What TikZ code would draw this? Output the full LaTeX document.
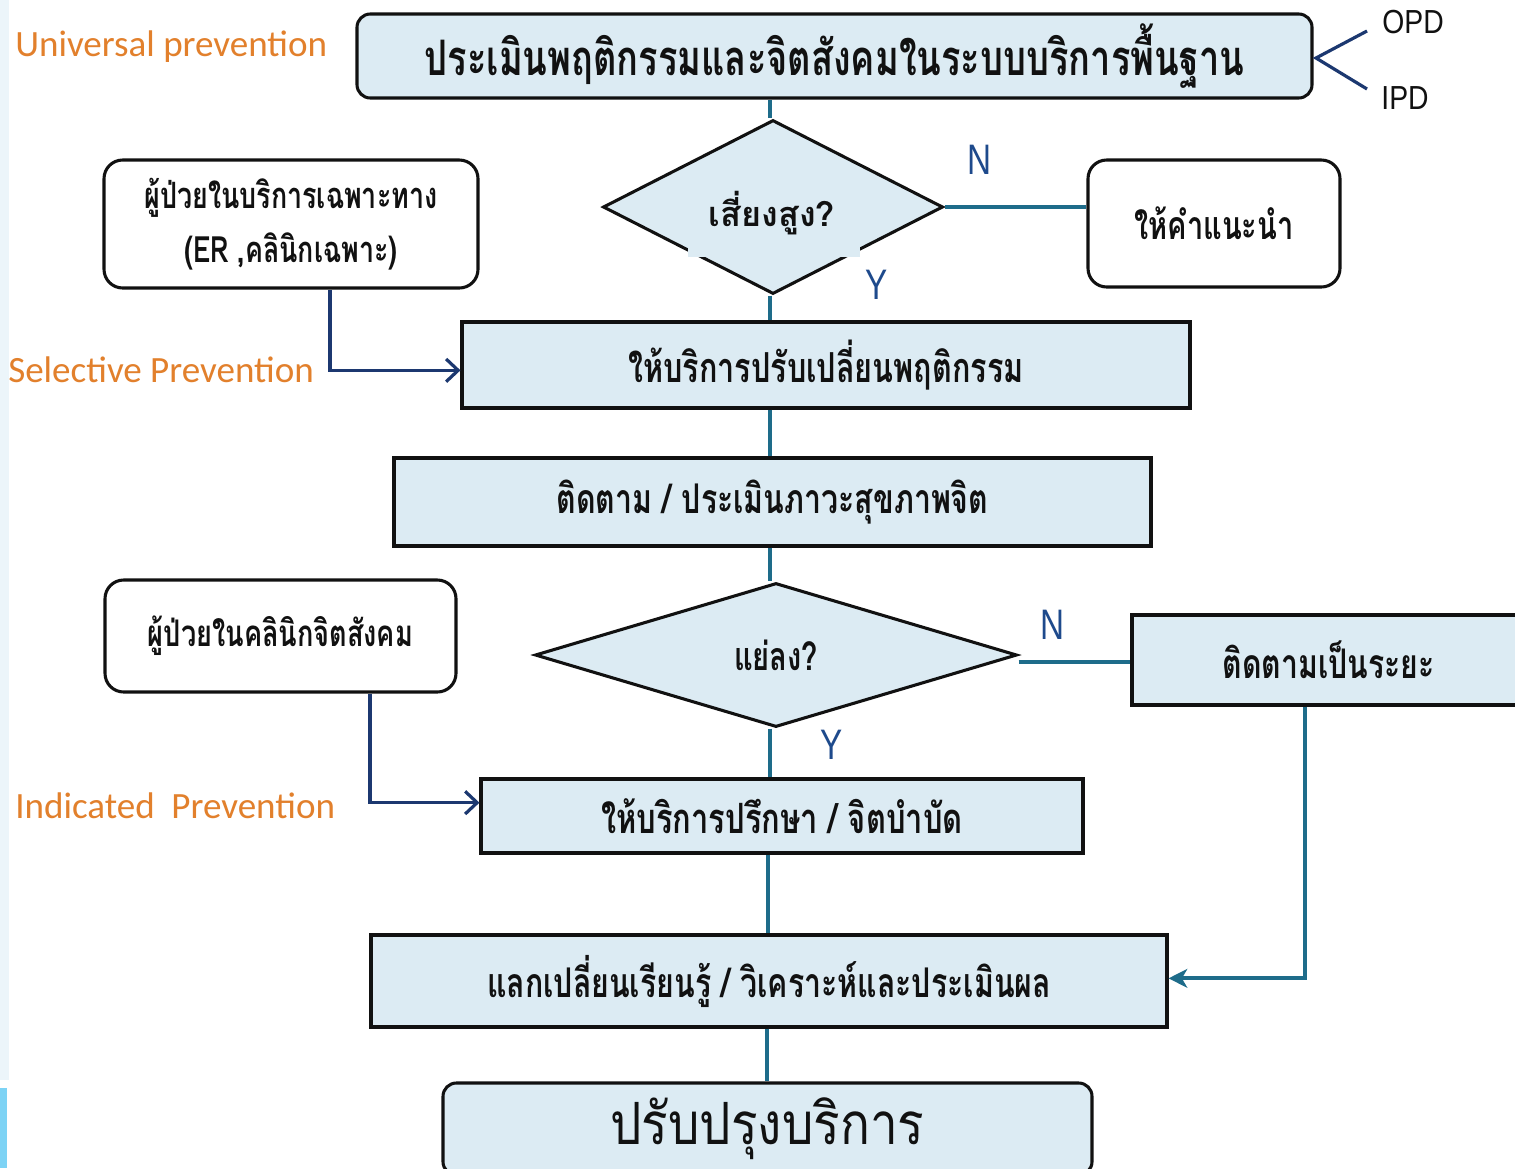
\documentclass[tikz,border=0pt]{standalone}
\usepackage{fontspec}
\setmainfont{Carlito}
\newfontfamily\thai[Script=Thai]{Loma}
\newfontfamily\thaic[Script=Thai,FakeStretch=0.74]{Loma}
\newfontfamily\thaim[Script=Thai,FakeStretch=0.85]{Loma}
\newfontfamily\lat{Liberation Sans}
\usetikzlibrary{shapes.geometric,arrows.meta,calc}
\definecolor{boxfill}{RGB}{220,235,243}
\definecolor{boxline}{RGB}{17,17,17}
\definecolor{conteal}{RGB}{30,108,138}
\definecolor{navy}{RGB}{28,56,112}
\definecolor{orangelab}{RGB}{226,128,44}
\definecolor{ynblue}{RGB}{30,74,140}
\definecolor{stripblue}{RGB}{236,245,250}
\definecolor{cyanmark}{RGB}{125,211,245}
\tikzset{
  bluebox/.style={draw=boxline, fill=boxfill, line width=2.3pt, inner sep=0pt, align=center, text=boxline},
  roundblue/.style={bluebox, rounded corners=10pt},
  whitebox/.style={draw=boxline, fill=white, line width=2.3pt, rounded corners=14pt, inner sep=0pt, align=center, text=boxline},
  decision/.style={diamond, draw=boxline, fill=boxfill, line width=2.3pt, inner sep=0pt},
  conn/.style={draw=conteal, line width=2.8pt},
  tealarrow/.style={draw=conteal, line width=2.8pt, -{Stealth[length=14pt,width=14pt,inset=4pt]}},
  navyarrow/.style={draw=navy, line width=2.4pt, -{Straight Barb[length=9pt,width=17pt,line width=2.4pt]}},
  prevlabel/.style={text=orangelab, font=\fontsize{27.8}{32}\selectfont, inner sep=0pt, anchor=west},
  ynlabel/.style={text=ynblue, font=\lat\fontsize{32}{32}\selectfont, inner sep=0pt},
  sidelabel/.style={text=boxline, font=\lat\fontsize{25}{25}\selectfont, inner sep=0pt},
}
\begin{document}
\begin{tikzpicture}[x=0.75pt,y=-0.75pt]
\useasboundingbox (0,0) rectangle (1515,1168);
\fill[white] (0,0) rectangle (1515,1168);
% left edge decoration
\fill[stripblue] (0,0) rectangle (9,1080);
\fill[cyanmark] (0,1088) rectangle (7,1168);

% boxes
\node[roundblue, minimum width=716.25pt, minimum height=63pt, font=\thaic\bfseries\fontsize{36.7}{40}\selectfont] (top) at (834.5,56) {\raisebox{-2pt}{ประเมินพฤติกรรมและจิตสังคมในระบบบริการพื้นฐาน}};
\node[decision, minimum width=255pt, minimum height=130.5pt] (d1) at (773,207) {};
\fill[boxfill] (688,234) rectangle (860,257);
\node[inner sep=0pt, text=boxline, font=\thai\bfseries\fontsize{25.7}{30}\selectfont] (d1text) at (772,213) {เสี่ยงสูง?};
\node[whitebox, minimum width=189pt, minimum height=95.25pt, font=\thaic\bfseries\fontsize{29.4}{34}\selectfont] (advice) at (1214,223.5) {ให้คำแนะนำ};
\node[whitebox, minimum width=280.5pt, minimum height=96pt, font=\thaic\bfseries\fontsize{27.2}{40}\selectfont] (sel) at (291,224) {ผู้ป่วยในบริการเฉพาะทาง\\(ER ,คลินิกเฉพาะ)};
\node[bluebox, minimum width=546pt, minimum height=64.5pt, font=\thaic\bfseries\fontsize{31}{34}\selectfont] (beh) at (826,365) {ให้บริการปรับเปลี่ยนพฤติกรรม};
\node[bluebox, minimum width=567.75pt, minimum height=66pt, font=\thaic\bfseries\fontsize{30.7}{34}\selectfont] (follow) at (772.5,502) {\raisebox{-2pt}{ติดตาม / ประเมินภาวะสุขภาพจิต}};
\node[decision, minimum width=361.5pt, minimum height=108pt, text=boxline, font=\thaic\bfseries\fontsize{29.5}{34}\selectfont] (d2) at (776,655) {แย่ลง?};
\node[bluebox, minimum width=294.75pt, minimum height=67.5pt, font=\thaic\bfseries\fontsize{30.6}{34}\selectfont] (periodic) at (1328.5,660) {ติดตามเป็นระยะ};
\node[whitebox, minimum width=263.25pt, minimum height=84pt, font=\thaic\bfseries\fontsize{27.5}{32}\selectfont] (ind) at (280.5,636) {ผู้ป่วยในคลินิกจิตสังคม};
\node[bluebox, minimum width=451.5pt, minimum height=55.5pt, font=\thaic\bfseries\fontsize{31.3}{34}\selectfont] (consult) at (782,816) {ให้บริการปรึกษา / จิตบำบัด};
\node[bluebox, minimum width=597pt, minimum height=69pt, font=\thaic\bfseries\fontsize{30.7}{34}\selectfont] (exch) at (769,981) {แลกเปลี่ยนเรียนรู้ / วิเคราะห์และประเมินผล};
\node[roundblue, minimum width=486.75pt, minimum height=69pt, font=\thaim\fontsize{43.7}{48}\selectfont] (improve) at (767.5,1129) {ปรับปรุงบริการ};

% connectors
\coordinate (spine) at (770,0);
\draw[conn] (top.south -| spine) -- (d1.north -| spine);
\draw[conn] (d1.south -| spine) -- (beh.north -| spine);
\draw[conn] (beh.south -| spine) -- (follow.north -| spine);
\draw[conn] (follow.south -| spine) -- (d2.north -| spine);
\draw[conn] (d2.south -| spine) -- (consult.north -| spine);
\draw[conn] ([xshift=-1.5pt]consult.south -| spine) -- ([xshift=-1.5pt]exch.north -| spine);
\draw[conn] ([xshift=-2.25pt]exch.south -| spine) -- ([xshift=-2.25pt]improve.north -| spine);
\draw[conn] (d1.east) -- (d1.east -| advice.west);
\draw[conn] ([yshift=-5pt]d2.east) -- ([yshift=-5pt]d2.east -| periodic.west);
\coordinate (pdrop) at (1305,705);
\draw[tealarrow] (periodic.south -| pdrop) |- ([yshift=2pt]exch.east);

\coordinate (seldrop) at (330,0);
\draw[navyarrow] (sel.south -| seldrop) |- ([yshift=-4pt]beh.west);
\coordinate (inddrop) at (370,0);
\draw[navyarrow] (ind.south -| inddrop) |- ([yshift=10pt]consult.west);

% OPD / IPD
\node[sidelabel] (opd) at (1413,22) {\scalebox{0.85}[1]{OPD}};
\node[sidelabel] (ipd) at (1405,98) {\scalebox{0.85}[1]{IPD}};
\coordinate (vtx) at (1316,58);
\draw[draw=navy, line width=2.4pt] (1367,31) -- (vtx) -- (1367,89);

% Y / N labels
\node[ynlabel] (n1) at (980,160) {\scalebox{0.78}[1]{N}};
\node[ynlabel] (y1) at (877,285) {\scalebox{0.78}[1]{Y}};
\node[ynlabel] (n2) at (1052,625) {\scalebox{0.78}[1]{N}};
\node[ynlabel] (y2) at (832,745) {\scalebox{0.78}[1]{Y}};

% prevention labels
\node[prevlabel] (univ) at (15,47) {Universal prevention};
\node[prevlabel] (selp) at (8,370) {Selective Prevention};
\node[prevlabel] (indp) at (15,806) {Indicated\ \ Prevention};
\end{tikzpicture}
\end{document}
